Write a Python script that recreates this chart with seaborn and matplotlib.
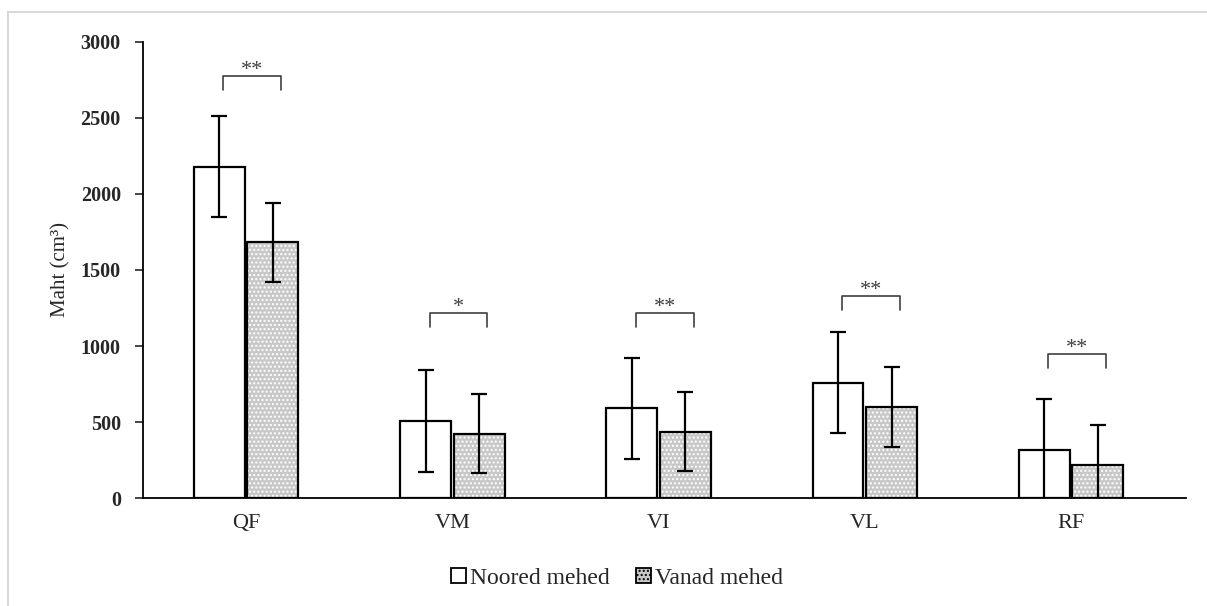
import pandas as pd
import matplotlib.pyplot as plt
import seaborn as sns
from matplotlib.patches import Rectangle, Patch
from matplotlib.lines import Line2D

# Data
muscles = ["QF", "VM", "VI", "VL", "RF"]
groups = ["Noored mehed", "Vanad mehed"]
noored_mean = [2180, 510, 590, 760, 315]
noored_sd = [330, 335, 332, 335, 334]
vanad_mean = [1683, 422, 437, 600, 220]
vanad_sd = [260, 260, 260, 262, 258]
sig_labels = ["**", "*", "**", "**", "**"]
sig_height = [2776, 1217, 1217, 1329, 947]

df = pd.DataFrame({
    "muscle": muscles * 2,
    "group": [groups[0]] * 5 + [groups[1]] * 5,
    "value": noored_mean + vanad_mean,
    "sd": noored_sd + vanad_sd,
})

sns.set_style("white")
plt.rcParams["font.family"] = ["Liberation Serif", "DejaVu Serif"]
plt.rcParams["hatch.linewidth"] = 1.0

fig = plt.figure(figsize=(12.07, 6.06), dpi=100)
ax = fig.add_axes([0.1185, 0.178, 0.8645, 0.753])

sns.barplot(data=df, x="muscle", y="value", hue="group", order=muscles,
            hue_order=groups, errorbar=None, width=0.52, gap=0.05,
            palette=["white", "#c8c8c8"], edgecolor="black", linewidth=1.6,
            legend=False, ax=ax)

bars = [p for p in ax.patches if isinstance(p, Rectangle)]
noored_bars = bars[:5]
vanad_bars = bars[5:10]

# dotted texture on the older group
for p in vanad_bars:
    p.set_facecolor("#c8c8c8")
    p.set_edgecolor("white")
    p.set_hatch("....")
    p.set_linewidth(0)
    ax.add_patch(Rectangle(p.get_xy(), p.get_width(), p.get_height(),
                           fill=False, edgecolor="black", linewidth=1.6, zorder=3))

# error bars
for bar_set, means, sds in [(noored_bars, noored_mean, noored_sd),
                            (vanad_bars, vanad_mean, vanad_sd)]:
    xs = [p.get_x() + p.get_width() / 2 for p in bar_set]
    ax.errorbar(xs, means, yerr=sds, fmt="none", ecolor="black",
                elinewidth=1.6, capsize=6, capthick=1.6, zorder=4)

# significance brackets
for i, (lab, h) in enumerate(zip(sig_labels, sig_height)):
    x0 = noored_bars[i].get_x() + noored_bars[i].get_width() / 2 + 0.02
    x1 = vanad_bars[i].get_x() + vanad_bars[i].get_width() / 2 + 0.04
    ax.plot([x0, x0, x1, x1], [h - 90, h, h, h - 90], color="#404040",
            linewidth=1.2, clip_on=False)
    ax.text((x0 + x1) / 2, h - 25, lab, ha="center", va="bottom",
            fontsize=16, color="#404040")

ax.set_xlim(-0.5, 4.56)
ax.set_ylim(0, 3000)
ax.set_yticks(range(0, 3001, 500))
ax.set_xlabel("")
ax.set_ylabel("Maht (cm³)", fontsize=15)
ax.yaxis.set_label_coords(-0.07, 0.5)
ax.tick_params(axis="y", which="both", left=True, direction="out", length=6,
               width=1.2, labelsize=14.5, pad=10)
ax.tick_params(axis="x", bottom=False, labelsize=16, pad=8)
for t in ax.get_yticklabels():
    t.set_fontweight("bold")

for s in ["top", "right"]:
    ax.spines[s].set_visible(False)
for s in ["left", "bottom"]:
    ax.spines[s].set_color("black")
    ax.spines[s].set_linewidth(1.3)

# legend
handles = [
    Patch(facecolor="white", edgecolor="black", linewidth=1.3),
    Patch(facecolor="#c8c8c8", edgecolor="black", linewidth=1.3, hatch="...."),
]
fig.legend(handles, groups, loc="center", bbox_to_anchor=(0.511, 0.046), ncol=2,
           frameon=False, fontsize=17, handlelength=0.65, handleheight=0.65,
           handletextpad=0.15, columnspacing=1.1)

# thin light border like the source image
fig.add_artist(Line2D([0.007, 0.007], [0, 0.98], color="#d9d9d9", linewidth=1.5))
fig.add_artist(Line2D([0.007, 1.0], [0.98, 0.98], color="#d9d9d9", linewidth=1.5))

plt.savefig("out.png", dpi=100, facecolor="white")
